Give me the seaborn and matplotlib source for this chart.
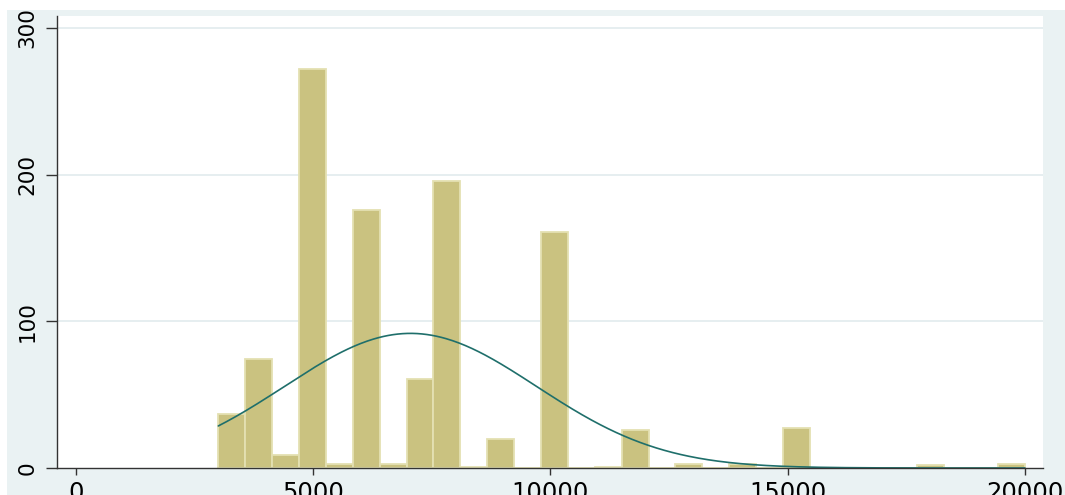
import numpy as np
import pandas as pd
import matplotlib
matplotlib.use("Agg")
import matplotlib.pyplot as plt
import seaborn as sns
from matplotlib.patches import Rectangle

# ---- data ----
bin_lo = 3000
bin_hi = 20000
n_bins = 30
counts = [37, 74, 9, 272, 3, 176, 3, 61, 196, 1,
          20, 0, 161, 0, 1, 26, 0, 3, 0, 3,
          0, 27, 0, 0, 0, 0, 2, 0, 0, 3]
norm_mean = 7050
norm_sd = 2655
x_ticks = [0, 5000, 10000, 15000, 20000]
y_ticks = [0, 100, 200, 300]

edges = np.linspace(bin_lo, bin_hi, n_bins + 1)
centers = (edges[:-1] + edges[1:]) / 2
width = edges[1] - edges[0]
df = pd.DataFrame({"value": centers, "count": counts})

total = sum(counts)
xs = np.linspace(bin_lo, bin_hi, 500)
ys = total * width * np.exp(-0.5 * ((xs - norm_mean) / norm_sd) ** 2) / (norm_sd * np.sqrt(2 * np.pi))
curve = pd.DataFrame({"x": xs, "y": ys})

sns.set_style("white")
plt.rcParams["font.family"] = ["DejaVu Sans"]

W, H = 1065, 495
fig = plt.figure(figsize=(W / 100, H / 100), dpi=100, facecolor="white")
bg = Rectangle((7 / W, 0), 1 - 7 / W, 1 - 10 / H, transform=fig.transFigure,
               facecolor="#eaf2f3", edgecolor="none", zorder=-10)
fig.add_artist(bg)

ax = fig.add_axes([57 / W, 1 - 468 / H, (1042.5 - 57) / W, (468 - 16) / H])
ax.set_facecolor("white")

sns.histplot(data=df, x="value", weights="count", bins=n_bins,
             binrange=(bin_lo, bin_hi), ax=ax,
             stat="count", color="#cac280", alpha=1.0,
             edgecolor="#e4e0b2", linewidth=1.3, zorder=2)
sns.lineplot(data=curve, x="x", y="y", ax=ax, color="#1f6f6b",
             linewidth=1.2, zorder=3)

ax.set_xlim(-400, 20370)
ax.set_ylim(0, 308.2)
ax.set_xlabel("")
ax.set_ylabel("")

for y in y_ticks[1:]:
    ax.axhline(y, color="#e6eef0", linewidth=1.4, zorder=1)

for s in ["top", "right"]:
    ax.spines[s].set_visible(False)
for s in ["left", "bottom"]:
    ax.spines[s].set_color("#333333")
    ax.spines[s].set_linewidth(1.0)
    ax.spines[s].set_zorder(4)

ax.set_xticks(x_ticks)
ax.set_xticklabels([str(v) for v in x_ticks], fontsize=17.5, color="black")
ax.set_yticks(y_ticks)
ax.set_yticklabels([str(v) for v in y_ticks], rotation=90, va="center",
                   fontsize=15.5, color="black",
                   family=["Liberation Sans Narrow", "DejaVu Sans"])
ax.tick_params(axis="x", length=5, width=1.0, color="#333333", pad=4.5, direction="out", bottom=True)
ax.tick_params(axis="y", length=8, width=1.0, color="#333333", pad=6, direction="out", left=True)

fig.savefig("out.png", dpi=100, facecolor=fig.get_facecolor())
